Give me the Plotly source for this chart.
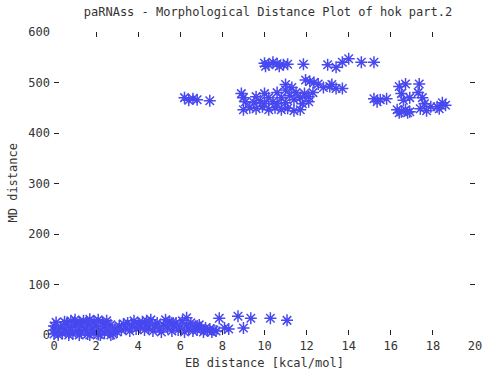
import plotly.graph_objects as go

# Bottom cluster (near-zero MD distance)
low_x = [0.0, 0.0, 0.0, 0.1, 0.2, 0.2, 0.3, 0.4, 0.5, 0.6, 0.7, 0.7, 0.8, 0.8, 0.9, 1.0, 1.0, 1.1,
         1.2, 1.2, 1.3, 1.3, 1.4, 1.5, 1.6, 1.6, 1.7, 1.7, 1.8, 1.9, 1.9, 2.0, 2.1, 2.1, 2.2, 2.2,
         2.3, 2.4, 2.4, 2.5, 2.6, 2.7, 2.7, 2.8, 2.9, 3.0, 3.1, 3.2, 3.3, 3.4, 3.5, 3.6, 3.7, 3.8,
         3.9, 4.0, 4.1, 4.2, 4.3, 4.4, 4.5, 4.6, 4.7, 4.8, 4.9, 5.0, 5.1, 5.2, 5.3, 5.4, 5.5, 5.6,
         5.7, 5.8, 5.9, 6.0, 6.1, 6.2, 6.3, 6.3, 6.4, 6.5, 6.6, 6.7, 6.8, 6.9, 7.0, 7.1, 7.2, 7.3,
         7.4, 7.5, 7.6, 7.7, 8.1, 8.3, 9.0, 7.85, 8.74, 9.35, 10.28, 11.07, 0.5, 1.5, 2.5, 4.4, 5.6, 6.8]
low_y = [2, 10, 18, 25, 5, 0, 14, 3, 12, 22, 6, 0, 28, 15, 2, 20, 30, 9,
         25, 0, 4, 17, 28, 11, 2, 22, 31, 0, 14, 6, 26, 18, 1, 30, 10, 0,
         24, 4, 16, 28, 8, 20, 0, 2, 12, 6, 18, 10, 22, 14, 24, 8, 18, 28,
         12, 22, 16, 26, 10, 20, 14, 30, 8, 18, 24, 12, 6, 20, 30, 14, 26, 8,
         18, 24, 10, 16, 28, 6, 34, 20, 12, 24, 8, 16, 10, 20, 12, 6, 14, 8,
         12, 6, 10, 8, 14, 12, 14, 33, 37, 33, 33, 29, 26, 24, 22, 28, 24, 18]

# Upper cluster (MD distance ~440-550)
high_x = [10.0, 10.2, 10.4, 10.6, 10.9, 11.1, 11.85, 13.0, 13.4, 13.7, 14.0, 14.6, 15.2, 10.05, 10.7,
          11.0, 11.95, 12.15, 12.35, 12.55, 12.8, 13.1, 13.4, 13.7, 13.2,
          6.2, 6.4, 6.6, 6.8, 7.4,
          8.9, 9.0, 9.1, 9.0, 9.3, 9.6, 9.9, 10.2, 10.5, 10.8, 11.1, 11.4, 11.7, 9.6, 9.8, 10.0,
          10.2, 10.4, 10.6, 10.8, 11.0, 11.0, 11.2, 11.4, 11.5, 11.7, 11.9, 12.1, 12.3, 11.8, 12.1,
          10.0, 9.5, 10.6, 11.3,
          15.2, 15.5, 15.8, 15.35,
          16.4, 16.7, 16.5, 16.6, 16.9,
          16.3, 16.5, 16.7, 16.9, 16.4, 16.8,
          17.35, 17.3, 17.5, 17.6, 17.4, 17.7, 17.9,
          18.2, 18.45, 18.6, 18.3]
high_y = [538, 535, 540, 537, 535, 536, 536, 535, 530, 540, 547, 540, 540, 532, 532,
          496, 505, 502, 500, 497, 490, 492, 488, 488, 496,
          470, 465, 468, 466, 464,
          478, 470, 462, 446, 450, 448, 452, 446, 450, 446, 449, 444, 446, 472, 464, 478,
          470, 462, 480, 470, 460, 485, 474, 466, 480, 470, 478, 472, 480, 458, 462,
          458, 460, 458, 490,
          468, 466, 468, 462,
          492, 497, 478, 465, 470,
          446, 442, 446, 442, 440, 440,
          497, 480, 470, 458, 448, 444, 452,
          452, 460, 455, 448]

x_ticks = [0, 2, 4, 6, 8, 10, 12, 14, 16, 18, 20]
y_ticks = [0, 100, 200, 300, 400, 500, 600]

blue = "#4848f0"
font = dict(family="DejaVu Sans Mono", size=12, color="#333333")

fig = go.Figure()
fig.add_trace(go.Scatter(
    x=low_x + high_x, y=low_y + high_y, mode="markers",
    marker=dict(symbol="asterisk-open", size=10, color=blue,
                line=dict(color=blue, width=1.5)),
    showlegend=False, cliponaxis=False,
))

axis_common = dict(showgrid=False, zeroline=False, showline=False, ticks="inside",
                   mirror="ticks", ticklen=5, tickwidth=1, tickcolor="#222222",
                   tickfont=font)

fig.update_layout(
    width=490, height=373,
    margin=dict(l=54, r=8, t=32, b=38),
    paper_bgcolor="white", plot_bgcolor="white",
    font=font,
    title=dict(text="paRNAss - Morphological Distance Plot of hok part.2",
               x=268 / 490, xanchor="center", y=1 - 12 / 373, yanchor="middle",
               font=font),
    xaxis=dict(range=[0, 20], tickvals=x_ticks, ticklabelstandoff=2, **axis_common),
    yaxis=dict(range=[0, 600], tickvals=y_ticks, ticklabelstandoff=3, **axis_common),
    annotations=[
        dict(text="EB distance [kcal/mol]", xref="paper", yref="paper", x=0.5, y=0,
             yshift=-28, xanchor="center", yanchor="middle", showarrow=False, font=font),
        dict(text="MD distance", xref="paper", yref="paper", x=0, y=0.5, xshift=-42,
             textangle=-90, xanchor="center", yanchor="middle", showarrow=False, font=font),
    ],
)

fig.write_html("out.html", config={"displayModeBar": False},
               post_script="document.body.style.margin='0';document.body.style.overflow='hidden';")
